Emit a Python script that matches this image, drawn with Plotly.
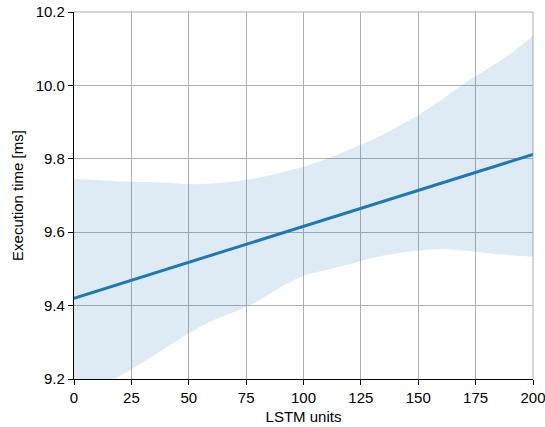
import plotly.graph_objects as go

# Data
band_x = [0, 10, 20, 30, 40, 50, 60, 70, 80, 90, 100, 110, 120, 130, 140, 150, 160, 170, 180, 190, 200]
band_upper = [9.745, 9.742, 9.738, 9.737, 9.735, 9.731, 9.733, 9.738, 9.748, 9.762, 9.778, 9.800,
              9.825, 9.852, 9.884, 9.919, 9.960, 10.005, 10.044, 10.085, 10.135]
band_lower = [9.13, 9.168, 9.208, 9.245, 9.285, 9.325, 9.358, 9.383, 9.412, 9.450, 9.481, 9.497,
              9.513, 9.530, 9.542, 9.550, 9.554, 9.550, 9.543, 9.537, 9.533]
fit_x = [0, 200]
fit_y = [9.42, 9.812]

x_ticks = [0, 25, 50, 75, 100, 125, 150, 175, 200]
y_ticks = [9.2, 9.4, 9.6, 9.8, 10.0, 10.2]

FONT = "Liberation Sans, Arial, sans-serif"
GRID = "#b0b0b0"

fig = go.Figure()
fig.add_trace(go.Scatter(x=band_x, y=band_upper, mode="lines", line=dict(width=0, shape="spline"),
                         showlegend=False, hoverinfo="skip"))
fig.add_trace(go.Scatter(x=band_x, y=band_lower, mode="lines", line=dict(width=0, shape="spline"),
                         fill="tonexty", fillcolor="rgba(31,119,180,0.15)",
                         showlegend=False, hoverinfo="skip"))
fig.add_trace(go.Scatter(x=fit_x, y=fit_y, mode="lines",
                         line=dict(color="#1f77b4", width=3), showlegend=False))

# grid lines lying on the top and right frame edges
fig.add_shape(type="line", xref="x domain", yref="y domain", x0=0, x1=1, y0=1, y1=1,
              line=dict(color=GRID, width=1), layer="below")
fig.add_shape(type="line", xref="x domain", yref="y domain", x0=1, x1=1, y0=0, y1=1,
              line=dict(color=GRID, width=1), layer="below")

fig.update_layout(
    width=545, height=427,
    margin=dict(l=74, r=12, t=12, b=48),
    paper_bgcolor="white", plot_bgcolor="white",
    font=dict(family=FONT, size=15, color="black"),
)
fig.update_xaxes(
    range=[0, 200], tickvals=x_ticks, ticktext=[str(v) for v in x_ticks],
    showgrid=True, gridcolor=GRID, gridwidth=1,
    showline=True, linecolor="black", linewidth=1.2,
    ticks="outside", ticklen=5, tickcolor="black", tickwidth=1.2,
    zeroline=False, automargin=False, ticklabeloverflow="allow",
    title=dict(text="LSTM units", standoff=6, font=dict(size=15)),
    tickfont=dict(size=15),
)
fig.update_yaxes(
    range=[9.2, 10.2], tickvals=y_ticks, ticktext=[f"{v:.1f}" for v in y_ticks],
    showgrid=True, gridcolor=GRID, gridwidth=1,
    showline=True, linecolor="black", linewidth=1.2,
    ticks="outside", ticklen=5, tickcolor="black", tickwidth=1.2,
    zeroline=False, automargin=False, ticklabeloverflow="allow",
    title=dict(text="Execution time [ms]", standoff=8, font=dict(size=15)),
    tickfont=dict(size=15),
)

fig.write_html("out.html")
